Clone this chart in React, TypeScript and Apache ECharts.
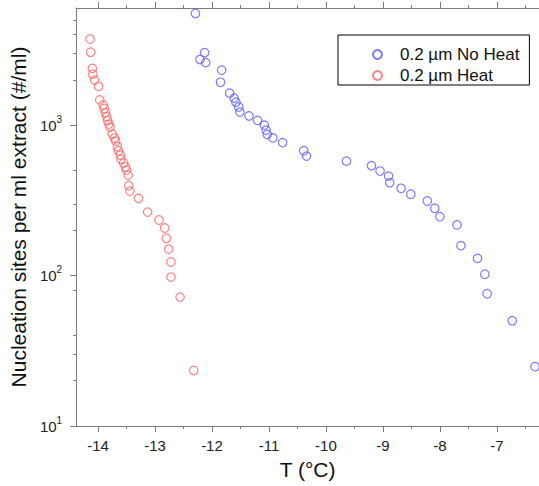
import React, { useEffect, useRef } from "react";
import * as echarts from "echarts";

// 0.2 µm No Heat (blue)
const noHeatT = [
  -12.29, -12.13, -12.21, -12.11, -11.83, -11.85, -11.69, -11.61, -11.58, -11.53,
  -11.51, -11.35, -11.2, -11.08, -11.05, -11.03, -10.93, -10.76, -10.39, -10.34,
  -9.64, -9.2, -9.05, -8.9, -8.88, -8.68, -8.51, -8.22, -8.09, -8.0,
  -7.7, -7.63, -7.34, -7.21, -7.17, -6.73, -6.33,
];
const noHeatN = [
  5520, 3030, 2730, 2600, 2320, 1925, 1630, 1510, 1420, 1320,
  1220, 1150, 1075, 1000, 926, 868, 822, 765, 675, 622,
  576, 537, 495, 458, 414, 380, 347, 313, 280, 246,
  217, 158, 130, 102, 75.7, 50.1, 24.8,
];

// 0.2 µm Heat (red)
const heatT = [
  -14.14, -14.13, -14.1, -14.09, -14.06, -13.99, -13.97, -13.91, -13.89, -13.87,
  -13.85, -13.83, -13.81, -13.79, -13.75, -13.71, -13.69, -13.66, -13.64, -13.61,
  -13.6, -13.55, -13.52, -13.5, -13.47, -13.46, -13.44, -13.29, -13.13, -12.93,
  -12.83, -12.8, -12.76, -12.72, -12.72, -12.56, -12.32,
];
const heatN = [
  3730, 3050, 2380, 2180, 1990, 1810, 1470, 1360, 1290, 1210,
  1135, 1068, 1015, 970, 871, 820, 783, 720, 675, 632,
  594, 559, 528, 502, 465, 396, 364, 326, 264, 234,
  207, 177, 150, 123, 97.7, 71.9, 23.4,
];

const seriesNames = ["0.2 µm No Heat", "0.2 µm Heat"];
const xMajorTicks = [-14, -13, -12, -11, -10, -9, -8, -7];
const xMinorTicks = [-13.5, -12.5, -11.5, -10.5, -9.5, -8.5, -7.5, -6.5];
const yMajorTicks = [10, 100, 1000];
const yMinorTicks = [20, 30, 40, 80, 200, 300, 500, 2000, 3000, 4000, 5000];

const X_MIN = -14.384;
const X_MAX = -6.26;
const Y_MIN = 10;
const Y_MAX = 6000;

const FONT = "'Liberation Sans', Arial, sans-serif";
const AXIS_COLOR = "#7a7a7a";
const BLUE = "#5a5aff";
const RED = "#ff6464";

export default function App() {
  const ref = useRef<HTMLDivElement>(null);

  useEffect(() => {
    document.body.style.margin = "0";
    if (!ref.current) return;
    const chart = echarts.init(ref.current, null, { renderer: "svg" });

    const baseX = (position: "top" | "bottom") => ({
      type: "value" as const,
      position,
      min: X_MIN,
      max: X_MAX,
      splitLine: { show: false },
    });
    const baseY = () => ({
      type: "log" as const,
      position: "left" as const,
      min: Y_MIN,
      max: Y_MAX,
      logBase: 10,
      splitLine: { show: false },
    });

    chart.setOption({
      animation: false,
      backgroundColor: "#ffffff",
      textStyle: { fontFamily: FONT },
      grid: { left: 70, right: 0, top: 8, bottom: 60, containLabel: false },
      legend: {
        left: 338,
        top: 35,
        orient: "vertical",
        data: seriesNames,
        padding: [11, 10, 1, 34],
        itemGap: 4,
        itemWidth: 35,
        itemHeight: 9,
        symbolKeepAspect: true,
        borderColor: "#000",
        borderWidth: 1,
        backgroundColor: "#fff",
        textStyle: { fontSize: 17, color: "#111", fontFamily: FONT },
      },
      xAxis: [
        {
          ...baseX("bottom"),
          axisLine: { show: true, onZero: false, lineStyle: { color: AXIS_COLOR, width: 1 } },
          axisTick: { show: true, customValues: xMajorTicks, length: 6, lineStyle: { color: AXIS_COLOR } },
          axisLabel: {
            show: true,
            customValues: xMajorTicks,
            fontSize: 15,
            color: "#222",
            margin: 12,
            fontFamily: FONT,
          },
          name: "T (°C)",
          nameLocation: "middle",
          nameGap: 33,
          nameTextStyle: { fontSize: 21, color: "#111", fontFamily: FONT },
        },
        {
          ...baseX("bottom"),
          axisLine: { show: false, onZero: false },
          axisTick: { show: true, customValues: xMinorTicks, length: 3, lineStyle: { color: AXIS_COLOR } },
          axisLabel: { show: false },
        },
        {
          ...baseX("top"),
          axisLine: { show: true, onZero: false, lineStyle: { color: AXIS_COLOR, width: 1 } },
          axisTick: { show: true, customValues: xMajorTicks, length: 6, lineStyle: { color: AXIS_COLOR } },
          axisLabel: { show: false },
        },
        {
          ...baseX("top"),
          axisLine: { show: false, onZero: false },
          axisTick: { show: true, customValues: xMinorTicks, length: 3, lineStyle: { color: AXIS_COLOR } },
          axisLabel: { show: false },
        },
      ],
      yAxis: [
        {
          ...baseY(),
          axisLine: { show: true, onZero: false, lineStyle: { color: AXIS_COLOR, width: 1 } },
          axisTick: { show: true, customValues: yMajorTicks, length: 6, lineStyle: { color: AXIS_COLOR } },
          axisLabel: {
            show: true,
            customValues: yMajorTicks,
            margin: 14,
            color: "#222",
            formatter: (v: number) => `{b|10}{s|${Math.round(Math.log10(v))}}`,
            rich: {
              b: { fontSize: 15, color: "#222", fontFamily: FONT },
              s: { fontSize: 10, color: "#222", fontFamily: FONT, padding: [0, 0, 12, 0] },
            },
          },
          name: "Nucleation sites per ml extract (#/ml)",
          nameLocation: "middle",
          nameGap: 36,
          nameRotate: 90,
          nameTextStyle: { fontSize: 21, color: "#111", fontFamily: FONT },
        },
        {
          ...baseY(),
          axisLine: { show: false, onZero: false },
          axisTick: { show: true, customValues: yMinorTicks, length: 3, lineStyle: { color: AXIS_COLOR } },
          axisLabel: { show: false },
        },
      ],
      series: [
        {
          name: seriesNames[0],
          type: "scatter",
          xAxisIndex: 0,
          yAxisIndex: 0,
          symbol: "circle",
          symbolSize: 8.5,
          clip: false,
          itemStyle: { color: "rgba(255,255,255,0)", borderColor: BLUE, borderWidth: 1.2 },
          data: noHeatT.map((t, i) => [t, noHeatN[i]]),
        },
        {
          name: seriesNames[1],
          type: "scatter",
          xAxisIndex: 0,
          yAxisIndex: 0,
          symbol: "circle",
          symbolSize: 8.5,
          clip: false,
          itemStyle: { color: "rgba(255,255,255,0)", borderColor: RED, borderWidth: 1.2 },
          data: heatT.map((t, i) => [t, heatN[i]]),
        },
      ],
    });

    return () => chart.dispose();
  }, []);

  return <div ref={ref} style={{ width: 539, height: 486 }} />;
}
